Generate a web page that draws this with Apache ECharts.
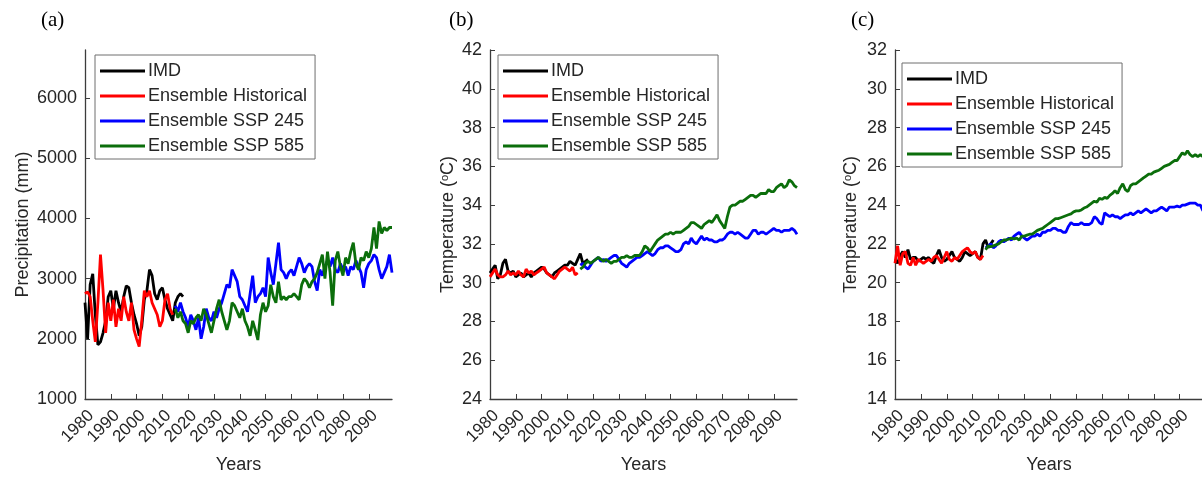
<!DOCTYPE html>
<html>
<head>
<meta charset="utf-8">
<script src="https://cdn.jsdelivr.net/npm/echarts@6/dist/echarts.min.js"></script>
<style>
html,body{margin:0;padding:0;background:#fff;}
#chart{width:1202px;height:477px;}
</style>
</head>
<body>
<div id="chart"></div>
<script>
// ---------- data ----------
const seriesNames = ['IMD', 'Ensemble Historical', 'Ensemble SSP 245', 'Ensemble SSP 585'];
const imdStart = 1980, histStart = 1980, sspStart = 2015;
const xTicks = [1980, 1990, 2000, 2010, 2020, 2030, 2040, 2050, 2060, 2070, 2080, 2090];
const yTicksA = [1000, 2000, 3000, 4000, 5000, 6000];
const yTicksB = [24, 26, 28, 30, 32, 34, 36, 38, 40, 42];
const yTicksC = [14, 16, 18, 20, 22, 24, 26, 28, 30, 32];

// (a) Precipitation (mm)
const precipIMD = [2600,2000,2900,3080,2400,1900,1950,2100,2300,2700,2800,2500,2800,2600,2450,2700,2880,2850,2600,2400,2250,2050,2200,2650,2800,3150,3050,2750,2650,2800,2850,2650,2500,2400,2300,2600,2700,2750,2700];
const precipHist = [2750,2780,2700,2300,1950,2600,3400,2800,2100,2600,2300,2650,2200,2500,2300,2700,2450,2300,2600,2150,2000,1870,2300,2800,2700,2800,2600,2500,2400,2200,2300,2650,2750,2500,2400];
const precipSSP245 = [2550,2450,2600,2450,2350,2200,2400,2300,2150,2350,2000,2200,2500,2350,2300,2450,2350,2500,2600,2750,2900,2850,3150,3050,2950,2700,2650,2550,2450,2750,3050,2600,2700,2750,2850,2700,3350,3100,2900,3250,3600,3150,3100,3000,3100,3150,3050,3200,3350,3250,3100,3200,3250,3200,2950,2800,3150,3050,3200,3300,3200,3350,3150,3100,3250,3150,3200,3050,3200,3150,3300,3200,3100,2850,3150,3250,3300,3400,3350,3150,3000,3100,3200,3400,3100];
const precipSSP585 = [2500,2350,2450,2300,2250,2100,2300,2250,2350,2400,2300,2500,2400,2250,2100,2300,2500,2650,2450,2300,2150,2300,2600,2550,2450,2350,2500,2300,2200,2050,2300,2150,1980,2400,2600,2450,2550,2900,2700,2600,2950,2650,2700,2650,2700,2700,2750,2700,2650,2900,3000,2950,2850,2950,3000,3100,3250,3400,3000,3450,3100,2550,3300,3450,3200,3050,3350,3250,3450,3600,3250,3150,3350,3300,3450,3350,3500,3850,3500,3950,3750,3850,3800,3850,3850];

// (b) Temperature (°C) – maximum
const tmaxIMD = [30.5,30.7,30.9,30.2,30.4,31.0,31.2,30.6,30.5,30.6,30.3,30.4,30.5,30.3,30.4,30.5,30.3,30.5,30.6,30.7,30.8,30.7,30.5,30.4,30.3,30.5,30.6,30.7,30.8,30.9,30.9,31.1,31.0,30.9,31.2,31.5,31.0,31.1,31.2];
const tmaxHist = [30.3,30.5,30.7,30.4,30.3,30.3,30.4,30.6,30.4,30.5,30.4,30.6,30.4,30.3,30.7,30.5,30.6,30.4,30.5,30.6,30.7,30.8,30.5,30.4,30.3,30.2,30.4,30.6,30.7,30.8,30.7,30.6,30.8,30.4,30.5];
const tmaxSSP245 = [30.9,31.0,30.8,30.7,30.9,31.1,31.2,31.3,31.1,31.2,31.1,31.2,31.3,31.4,31.4,31.2,31.0,30.9,30.8,31.0,31.1,31.2,31.3,31.3,31.4,31.5,31.6,31.5,31.4,31.5,31.7,31.8,31.8,31.9,31.9,31.8,31.7,31.6,31.6,31.7,32.0,32.1,32.0,32.3,32.1,32.0,32.2,32.4,32.2,32.3,32.2,32.2,32.1,32.1,32.2,32.2,32.3,32.5,32.6,32.6,32.5,32.6,32.5,32.4,32.3,32.3,32.5,32.7,32.7,32.5,32.6,32.6,32.5,32.6,32.7,32.8,32.7,32.7,32.6,32.7,32.7,32.7,32.8,32.7,32.5];
const tmaxSSP585 = [30.7,30.8,31.0,31.1,31.0,31.1,31.2,31.3,31.2,31.1,31.2,31.1,31.0,31.1,31.1,31.2,31.3,31.3,31.4,31.3,31.3,31.4,31.4,31.4,31.6,31.9,31.8,31.6,31.8,32.0,32.2,32.3,32.4,32.5,32.5,32.6,32.5,32.6,32.6,32.6,32.7,32.8,32.9,33.1,33.1,33.0,32.9,32.8,33.0,33.1,33.2,33.1,33.3,33.5,33.2,33.0,32.8,33.4,33.9,34.0,34.0,34.1,34.2,34.2,34.3,34.4,34.5,34.5,34.4,34.5,34.6,34.6,34.6,34.8,34.7,34.7,34.9,35.0,35.1,34.9,35.0,35.3,35.2,35.0,34.9];

// (c) Temperature (°C) – minimum
const tminIMD = [21.2,21.0,21.4,21.6,21.3,21.7,21.2,21.3,21.3,21.1,21.2,21.3,21.2,21.3,21.1,21.0,21.4,21.7,21.3,21.1,21.2,21.4,21.6,21.3,21.2,21.1,21.3,21.6,21.5,21.4,21.5,21.6,21.3,21.2,22.0,22.2,21.8,22.0,22.2];
const tminHist = [21.0,21.9,20.9,21.5,21.6,21.0,20.9,21.3,20.9,21.2,21.1,21.0,21.1,21.2,21.1,21.3,21.4,21.2,21.0,21.3,21.6,21.2,21.1,21.3,21.2,21.4,21.6,21.7,21.8,21.6,21.5,21.6,21.3,21.2,21.4];
const tminSSP245 = [21.8,21.9,22.0,21.8,21.9,22.1,22.2,22.1,22.2,22.3,22.2,22.4,22.5,22.6,22.4,22.3,22.2,22.3,22.4,22.4,22.5,22.4,22.6,22.6,22.7,22.7,22.8,22.8,22.7,22.7,22.6,22.6,22.9,23.1,23.0,23.0,23.0,23.1,23.0,23.0,23.0,23.1,23.4,23.3,23.1,23.0,23.6,23.5,23.4,23.5,23.4,23.4,23.3,23.4,23.5,23.5,23.6,23.5,23.6,23.7,23.6,23.7,23.8,23.7,23.6,23.7,23.7,23.8,23.9,23.8,23.7,23.9,23.9,23.9,23.95,23.9,24.0,24.0,24.05,24.1,24.1,24.1,24.0,24.0,23.7];
const tminSSP585 = [21.7,21.9,21.85,21.9,21.95,22.0,22.1,22.2,22.2,22.25,22.3,22.25,22.3,22.2,22.4,22.4,22.45,22.5,22.5,22.6,22.7,22.75,22.8,22.9,23.0,23.1,23.2,23.3,23.3,23.35,23.4,23.45,23.5,23.55,23.65,23.7,23.7,23.75,23.85,23.9,24.0,24.1,24.2,24.15,24.35,24.3,24.4,24.35,24.5,24.6,24.75,24.6,24.9,25.1,24.8,24.7,25.0,25.1,25.1,25.2,25.3,25.4,25.5,25.6,25.6,25.7,25.75,25.8,25.9,26.0,26.05,26.1,26.2,26.3,26.3,26.5,26.7,26.6,26.8,26.6,26.5,26.6,26.5,26.6,26.5];

// ---------- build ----------
function pairs(start, vals) { return vals.map((v, i) => [start + i, v]); }
const colors = ['#000000', '#ff0000', '#0000ff', '#0b6e0b'];
const FONT = 'Liberation Sans';
const TXT = '#262626';
const AX = '#3c3c3c';
const plain = v => String(v);

const panels = [
  { left: 85, width: 307, min: 1000, max: 6800, ticks: yTicksA, name: 'Precipitation (mm)', nameGap: 53,
    data: [precipIMD, precipHist, precipSSP245, precipSSP585], legendLeft: 95, legendTop: 55, label: '(a)', labelLeft: 36 },
  { left: 490, width: 307, min: 24, max: 42, ticks: yTicksB, name: 'Temperature ({sup|o}C)', nameGap: 33,
    data: [tmaxIMD, tmaxHist, tmaxSSP245, tmaxSSP585], legendLeft: 498, legendTop: 55, label: '(b)', labelLeft: 444 },
  { left: 895, width: 308, min: 14, max: 32, ticks: yTicksC, name: 'Temperature ({sup|o}C)', nameGap: 35,
    data: [tminIMD, tminHist, tminSSP245, tminSSP585], legendLeft: 902, legendTop: 63, label: '(c)', labelLeft: 846 }
];
const starts = [imdStart, histStart, sspStart, sspStart];

const option = {
  animation: false,
  backgroundColor: '#fff',
  title: panels.map(p => ({ text: p.label, left: p.labelLeft, top: 5,
    textStyle: { fontFamily: 'Liberation Serif', fontSize: 21, fontWeight: 'normal', color: '#000' } })),
  grid: panels.map(p => ({ left: p.left, width: p.width, top: 50, height: 349, containLabel: false, outerBoundsMode: 'none' })),
  xAxis: panels.map((p, i) => ({
    type: 'value', gridIndex: i, min: 1980, max: 2099,
    name: 'Years', nameLocation: 'middle', nameGap: 57,
    nameTextStyle: { fontFamily: FONT, fontSize: 18, color: TXT },
    axisLine: { lineStyle: { color: AX, width: 1.3 } },
    axisTick: { inside: true, length: 5, customValues: xTicks, lineStyle: { color: AX } },
    axisLabel: { customValues: xTicks, formatter: plain, rotate: 45, margin: 8, verticalAlign: 'top',
      fontFamily: FONT, fontSize: 17, color: TXT },
    splitLine: { show: false }
  })),
  yAxis: panels.map((p, i) => ({
    type: 'value', gridIndex: i, min: p.min, max: p.max,
    name: p.name, nameLocation: 'middle', nameGap: p.nameGap, nameRotate: 90,
    nameTextStyle: { fontFamily: FONT, fontSize: 18, color: TXT,
      rich: { sup: { fontFamily: FONT, fontSize: 11, color: TXT, verticalAlign: 'top' } } },
    axisLine: { show: true, lineStyle: { color: AX, width: 1.3 } },
    axisTick: { show: true, inside: true, length: 5, customValues: p.ticks, lineStyle: { color: AX } },
    axisLabel: { customValues: p.ticks, formatter: plain, margin: 8, fontFamily: FONT, fontSize: 18, color: TXT },
    splitLine: { show: false }
  })),
  legend: panels.map(p => ({
    data: seriesNames.map(n => ({ name: n, icon: 'rect' })), orient: 'vertical', left: p.legendLeft, top: p.legendTop,
    itemWidth: 45, itemHeight: 3, itemGap: 5, padding: [6, 8, 3, 5],
    backgroundColor: '#fff', borderColor: '#6e6e6e', borderWidth: 1, borderRadius: 0,
    selectedMode: false,
    textStyle: { fontFamily: FONT, fontSize: 18, color: TXT, lineHeight: 20, padding: [0, 0, 0, -2] }
  })),
  series: []
};

panels.forEach((p, gi) => {
  p.data.forEach((vals, si) => {
    option.series.push({
      name: seriesNames[si], type: 'line', xAxisIndex: gi, yAxisIndex: gi,
      data: pairs(starts[si], vals), symbol: 'none', smooth: false,
      lineStyle: { color: colors[si], width: 2.8 }, itemStyle: { color: colors[si] },
      z: 2 + si
    });
  });
});

const chart = echarts.init(document.getElementById('chart'), null, { renderer: 'canvas' });
chart.setOption(option);
</script>
</body>
</html>
